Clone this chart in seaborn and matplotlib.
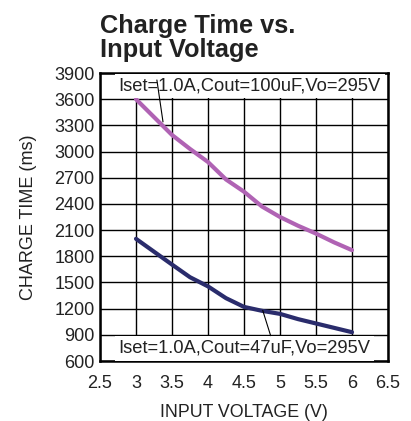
import numpy as np
import pandas as pd
import seaborn as sns
import matplotlib.pyplot as plt
from matplotlib.ticker import FuncFormatter

# Data
vin = [3.0, 3.5, 3.75, 4.0, 4.25, 4.5, 4.75, 5.0, 5.25, 5.5, 5.75, 6.0]
t_100uf = [3600, 3190, 3030, 2880, 2680, 2540, 2370, 2250, 2150, 2060, 1960, 1870]
t_47uf = [2000, 1705, 1560, 1455, 1320, 1220, 1175, 1140, 1080, 1030, 980, 930]

x_ticks = [2.5, 3, 3.5, 4, 4.5, 5, 5.5, 6, 6.5]
y_ticks = list(range(600, 4000, 300))

label_100 = "Iset=1.0A,Cout=100uF,Vo=295V"
label_47 = "Iset=1.0A,Cout=47uF,Vo=295V"

df = pd.DataFrame({
    "vin": vin * 2,
    "t": t_100uf + t_47uf,
    "cout": ["100uF"] * len(vin) + ["47uF"] * len(vin),
})

sns.set_style("white")
plt.rcParams["font.family"] = ["Liberation Sans", "DejaVu Sans"]

fig = plt.figure(figsize=(4.11, 4.21), dpi=100)
ax = fig.add_axes([100 / 411, 60 / 421, 288 / 411, 288 / 421])

sns.lineplot(data=df, x="vin", y="t", hue="cout",
             palette={"100uF": "#b063b4", "47uF": "#2a2c6c"},
             linewidth=3, legend=False, ax=ax, zorder=3)

ax.set_xlim(2.5, 6.5)
ax.set_ylim(600, 3900)
ax.set_xticks(x_ticks)
ax.set_yticks(y_ticks)
ax.xaxis.set_major_formatter(FuncFormatter(lambda v, p: f"{v:g}"))
ax.grid(True, color="black", linewidth=1)
ax.set_axisbelow(True)
for s in ax.spines.values():
    s.set_color("black")
    s.set_linewidth(1.8)
ax.tick_params(direction="in", length=3, width=1, color="black",
               labelsize=13, labelcolor="#222222")
ax.tick_params(axis="x", pad=10)
ax.tick_params(axis="y", pad=4)

ax.set_xlabel("INPUT VOLTAGE (V)", fontsize=12.8, labelpad=9, color="#222222")
ax.set_ylabel("CHARGE TIME (ms)", fontsize=13, labelpad=12, color="#222222")

# curve labels with leader lines
box = dict(boxstyle="square,pad=0.2", facecolor="white", edgecolor="none")
ax.text(2.76, 3750, label_100, fontsize=13.2, va="center", ha="left",
        bbox=box, zorder=4, color="#222222")
ax.plot([3.29, 3.375], [3820, 3340], color="black", linewidth=0.8, zorder=5)
ax.text(2.76, 745, label_47, fontsize=13.2, va="center", ha="left",
        bbox=box, zorder=4, color="#222222")
ax.plot([4.76, 4.87], [1180, 890], color="black", linewidth=0.8, zorder=5)

fig.text(100 / 411, 1 - 14 / 421, "Charge Time vs.\nInput Voltage",
         fontsize=18.3, fontweight="bold", va="top", ha="left",
         linespacing=1.02, color="#222222")

fig.savefig("out.png", dpi=100)
